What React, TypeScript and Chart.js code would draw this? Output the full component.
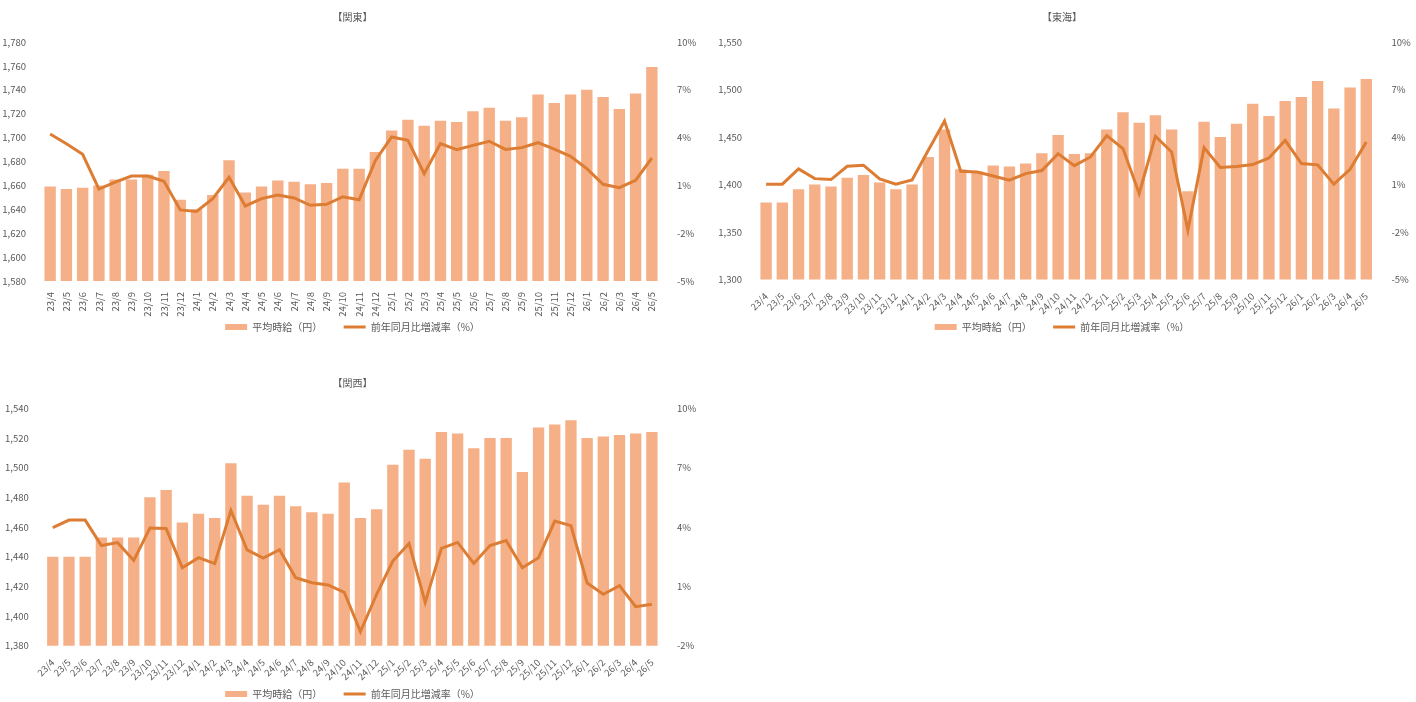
import { useEffect, useRef } from "react";
import { Chart, registerables } from "chart.js";

Chart.register(...registerables);

const categories = [
  "23/4", "23/5", "23/6", "23/7", "23/8", "23/9", "23/10", "23/11", "23/12",
  "24/1", "24/2", "24/3", "24/4", "24/5", "24/6", "24/7", "24/8", "24/9", "24/10", "24/11", "24/12",
  "25/1", "25/2", "25/3", "25/4", "25/5", "25/6", "25/7", "25/8", "25/9", "25/10", "25/11", "25/12",
  "26/1", "26/2", "26/3", "26/4", "26/5",
];

const barLabel = "平均時給（円）";
const lineLabel = "前年同月比増減率（%）";

const kantoWage = [
  1659, 1657, 1658, 1660, 1665, 1665, 1669, 1672, 1648,
  1640, 1652, 1681, 1654, 1659, 1664, 1663, 1661, 1662, 1674, 1674, 1688,
  1706, 1715, 1710, 1714, 1713, 1722, 1725, 1714, 1717, 1736, 1729, 1736,
  1740, 1734, 1724, 1737, 1759,
];
const kantoRate = [
  4.23, 3.62, 2.95, 0.77, 1.21, 1.59, 1.59, 1.26, -0.54,
  -0.63, 0.17, 1.51, -0.29, 0.17, 0.4, 0.21, -0.25, -0.19, 0.29, 0.1, 2.57,
  4.04, 3.83, 1.74, 3.62, 3.24, 3.51, 3.77, 3.26, 3.37, 3.68, 3.28, 2.82,
  2.05, 1.07, 0.86, 1.32, 2.72,
];

const tokaiWage = [
  1381, 1381, 1395, 1400, 1398, 1407, 1410, 1402, 1395,
  1400, 1429, 1458, 1416, 1414, 1420, 1419, 1422, 1433, 1452, 1432, 1433,
  1458, 1476, 1465, 1473, 1458, 1393, 1466, 1450, 1464, 1485, 1472, 1488,
  1492, 1509, 1480, 1502, 1511,
];
const tokaiRate = [
  1.02, 1.02, 1.98, 1.37, 1.31, 2.15, 2.22, 1.35, 1.02,
  1.29, 3.16, 5.01, 1.84, 1.79, 1.54, 1.27, 1.69, 1.88, 2.95, 2.19, 2.74,
  4.09, 3.27, 0.43, 4.05, 3.06, -1.89, 3.33, 2.07, 2.13, 2.26, 2.68, 3.79,
  2.32, 2.24, 1.02, 1.96, 3.69,
];

const kansaiWage = [
  1440, 1440, 1440, 1453, 1453, 1453, 1480, 1485, 1463,
  1469, 1466, 1503, 1481, 1475, 1481, 1474, 1470, 1469, 1490, 1466, 1472,
  1502, 1512, 1506, 1524, 1523, 1513, 1520, 1520, 1497, 1527, 1529, 1532,
  1520, 1521, 1522, 1523, 1524,
];
const kansaiRate = [
  3.97, 4.35, 4.35, 3.06, 3.21, 2.31, 3.95, 3.92, 1.94,
  2.45, 2.15, 4.84, 2.84, 2.43, 2.85, 1.44, 1.18, 1.07, 0.7, -1.29, 0.6,
  2.28, 3.17, 0.19, 2.92, 3.22, 2.16, 3.06, 3.31, 1.94, 2.45, 4.3, 4.07,
  1.17, 0.6, 1.03, -0.03, 0.09,
];

const FONT = "'Noto Sans CJK JP', 'Noto Sans', sans-serif";
const TEXT = "#595959";
const BAR = "#F5B088";
const LINE = "#DD7D33";

type PanelProps = {
  title: string;
  wage: number[];
  rate: number[];
  yMin: number;
  yMax: number;
  yStep: number;
  rMin: number;
  rMax: number;
  rotation: number;
  left: number;
  top: number;
  width: number;
  height: number;
  leftW: number;
  rightW: number;
  xH: number;
  titleTop: number;
  titleBottom: number;
};

function Panel(p: PanelProps) {
  const ref = useRef<HTMLCanvasElement | null>(null);
  useEffect(() => {
    if (!ref.current) return;
    const chart = new Chart(ref.current, {
      type: "bar",
      data: {
        labels: categories,
        datasets: [
          {
            type: "bar",
            label: barLabel,
            data: p.wage,
            backgroundColor: BAR,
            borderWidth: 0,
            yAxisID: "y",
            order: 1,
            barPercentage: 0.7,
            categoryPercentage: 1,
            pointStyle: "rect",
          } as any,
          {
            type: "line",
            label: lineLabel,
            data: p.rate,
            borderColor: LINE,
            backgroundColor: LINE,
            borderWidth: 3,
            pointRadius: 0,
            tension: 0,
            yAxisID: "y1",
            order: 0,
            pointStyle: "line",
          } as any,
        ],
      },
      options: {
        responsive: false,
        animation: false,
        devicePixelRatio: 1,
        events: [],
        layout: { padding: 0 },
        plugins: {
          tooltip: { enabled: false },
          title: {
            display: true,
            text: p.title,
            color: TEXT,
            font: { family: FONT, size: 10, weight: "normal", lineHeight: 1.2 },
            padding: { top: p.titleTop, bottom: p.titleBottom },
          },
          legend: {
            display: true,
            position: "bottom",
            labels: {
              color: TEXT,
              font: { family: FONT, size: 10 },
              usePointStyle: true,
              pointStyleWidth: 22,
              boxHeight: 6,
              padding: 2,
              sort: (a: any, b: any) => a.datasetIndex - b.datasetIndex,
              generateLabels: (c: any) => {
                const items = Chart.defaults.plugins.legend.labels.generateLabels(c);
                return items.map((it: any) =>
                  it.datasetIndex === 0 ? { ...it, text: it.text + "\u3000\u3000  " } : it
                );
              },
            },
          },
        },
        scales: {
          x: {
            grid: { display: false },
            border: { display: false },
            ticks: {
              color: TEXT,
              font: { family: FONT, size: 9.5 },
              autoSkip: false,
              minRotation: p.rotation,
              maxRotation: p.rotation,
              padding: 3,
            },
            afterFit: (s: any) => {
              s.height = p.xH;
            },
          },
          y: {
            position: "left",
            min: p.yMin,
            max: p.yMax,
            grid: { display: false },
            border: { display: false },
            ticks: {
              stepSize: p.yStep,
              color: TEXT,
              font: { family: FONT, size: 9.5 },
              padding: 8,
              callback: (v: any) => Number(v).toLocaleString("en-US"),
            },
            afterFit: (s: any) => {
              s.width = p.leftW;
            },
          },
          y1: {
            position: "right",
            min: p.rMin,
            max: p.rMax,
            grid: { display: false },
            border: { display: false },
            ticks: {
              stepSize: 3,
              color: TEXT,
              font: { family: FONT, size: 9.5 },
              padding: 9,
              callback: (v: any) => `${v}%`,
            },
            afterFit: (s: any) => {
              s.width = p.rightW;
            },
          },
        },
      } as any,
    });
    return () => chart.destroy();
  }, []);
  return (
    <canvas
      ref={ref}
      width={p.width}
      height={p.height}
      style={{
        position: "absolute",
        left: p.left,
        top: p.top,
        width: p.width,
        height: p.height,
      }}
    />
  );
}

export default function App() {
  return (
    <div
      style={{
        position: "fixed",
        left: 0,
        top: 0,
        width: 1416,
        height: 702,
        overflow: "hidden",
        background: "#ffffff",
      }}
    >
      <Panel
        title="【関東】"
        wage={kantoWage}
        rate={kantoRate}
        yMin={1580}
        yMax={1780}
        yStep={20}
        rMin={-5}
        rMax={10}
        rotation={90}
        left={0}
        top={0}
        width={705}
        height={342}
        leftW={42}
        rightW={45}
        xH={39}
        titleTop={11.5}
        titleBottom={18.5}
      />
      <Panel
        title="【東海】"
        wage={tokaiWage}
        rate={tokaiRate}
        yMin={1300}
        yMax={1550}
        yStep={50}
        rMin={-5}
        rMax={10}
        rotation={45}
        left={708}
        top={0}
        width={708}
        height={342}
        leftW={50}
        rightW={41.6}
        xH={40.5}
        titleTop={11.5}
        titleBottom={18.5}
      />
      <Panel
        title="【関西】"
        wage={kansaiWage}
        rate={kansaiRate}
        yMin={1380}
        yMax={1540}
        yStep={20}
        rMin={-2}
        rMax={10}
        rotation={45}
        left={0}
        top={357}
        width={705}
        height={352}
        leftW={44.7}
        rightW={45}
        xH={41.3}
        titleTop={20}
        titleBottom={19.3}
      />
    </div>
  );
}
